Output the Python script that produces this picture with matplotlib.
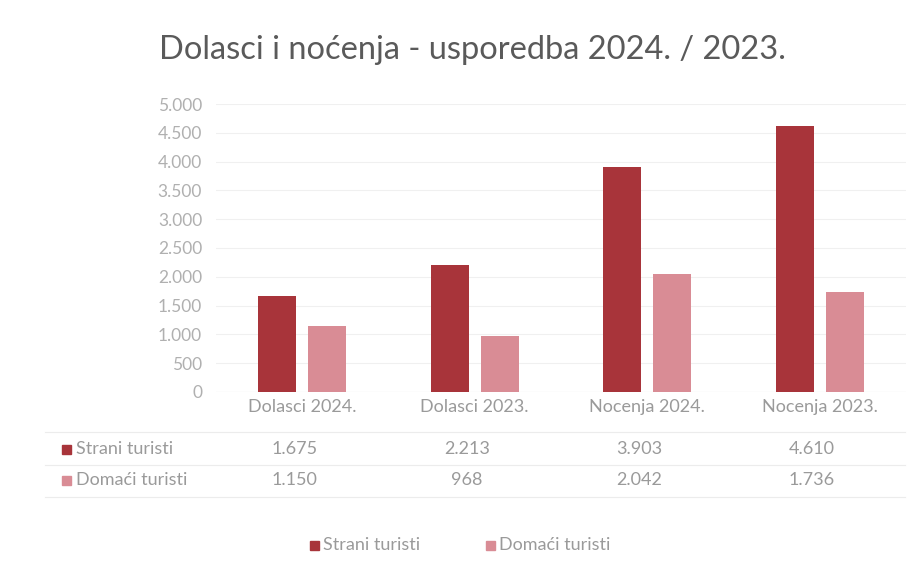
import matplotlib
matplotlib.use("Agg")
import matplotlib.pyplot as plt
import numpy as np
from matplotlib.patches import Rectangle
from matplotlib.lines import Line2D

plt.rcParams['font.family'] = ['Lato', 'DejaVu Sans']

title = "Dolasci i noćenja - usporedba 2024. / 2023."
categories = ["Dolasci 2024.", "Dolasci 2023.", "Nocenja 2024.", "Nocenja 2023."]
series_names = ["Strani turisti", "Domaći turisti"]
strani = [1675, 2213, 3903, 4610]
domaci = [1150, 968, 2042, 1736]
yticks = [0, 500, 1000, 1500, 2000, 2500, 3000, 3500, 4000, 4500, 5000]

colors = ["#A8343A", "#D98C95"]
txt_grey = "#9a9a9a"

def fmt(v):
    return f"{v:,}".replace(",", ".")

W, H = 920, 571
fig = plt.figure(figsize=(W / 100, H / 100), dpi=100)
fig.patch.set_facecolor("white")

ax_left, ax_right = 216 / W, 906 / W
ax_bottom, ax_top = 1 - 392 / H, 1 - 104 / H
ax = fig.add_axes([ax_left, ax_bottom, ax_right - ax_left, ax_top - ax_bottom])

x = np.arange(len(categories))
bw = 0.22
gap = 0.07
off = (bw + gap) / 2
ax.bar(x - off, strani, width=bw, color=colors[0], zorder=3)
ax.bar(x + off, domaci, width=bw, color=colors[1], zorder=3)

ax.set_xlim(-0.5, len(categories) - 0.5)
ax.set_ylim(0, 5000)
ax.set_yticks(yticks)
ax.set_yticklabels([fmt(v) for v in yticks], color="#b0b0b0", fontsize=12.5)
ax.tick_params(axis="y", length=0, pad=10)
ax.grid(axis="y", color="#f0f0f0", lw=0.8, zorder=0)
ax.set_xticks(x)
ax.set_xticklabels(categories, color=txt_grey, fontsize=13)
ax.tick_params(axis="x", length=0, pad=5)
for s in ax.spines.values():
    s.set_visible(False)
ax.axhline(0, color="#e6e6e6", lw=0.8, zorder=2)

# Title
fig.text(0.513, 1 - 50 / H, title, ha="center", va="center", fontsize=23.5, color="#5a5a5a")

# Data table
row_ys = [1 - 449 / H, 1 - 480 / H]
for vals, ry in zip([strani, domaci], row_ys):
    for xi, v in zip(x, vals):
        fig.text(ax.transData.transform((xi, 0))[0] / W - 8 / W, ry, fmt(v), ha="center", va="center",
                 fontsize=13, color=txt_grey)
for name, col, ry in zip(series_names, colors, row_ys):
    fig.patches.append(Rectangle((62 / W, ry - 4.5 / H), 9 / W, 9 / H, transform=fig.transFigure,
                                 color=col, figure=fig))
    fig.text(76 / W, ry, name, ha="left", va="center", fontsize=13, color=txt_grey)
for ly in [432, 465, 497]:
    fig.lines.append(Line2D([45 / W, 905 / W], [1 - ly / H, 1 - ly / H], transform=fig.transFigure,
                            color="#ececec", lw=0.8))

# Legend
leg_y = 1 - 545 / H
lx = 310
for name, col in zip(series_names, colors):
    fig.patches.append(Rectangle((lx / W, leg_y - 4.5 / H), 9 / W, 9 / H, transform=fig.transFigure,
                                 color=col, figure=fig))
    fig.text((lx + 13) / W, leg_y, name, ha="left", va="center", fontsize=13, color=txt_grey)
    lx += 176

fig.savefig("out.png", dpi=100)
